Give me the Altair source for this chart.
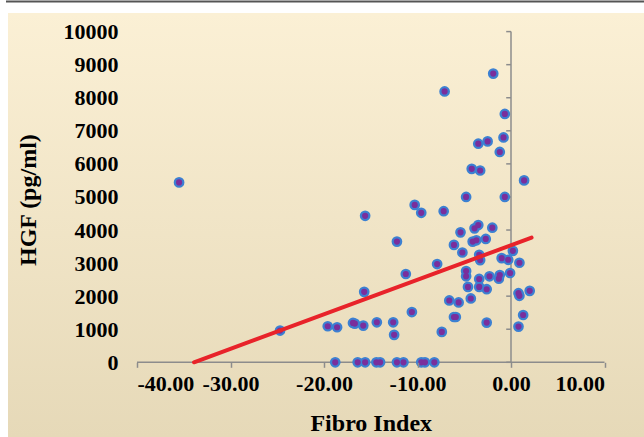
import altair as alt
import pandas as pd

# Fibro index vs HGF concentration, one entry per subject
fibro_index = [
    -35.5, -24.7, -19.6, -18.6, -18.8, -16.9, -16.7, -16.4, -15.8, -15.7,
    -15.6, -15.6, -14.35, -14.4, -14.0, -12.6, -12.5, -12.2, -12.2, -11.5,
    -11.25, -10.6, -10.3, -9.6, -9.6, -9.2, -8.2, -7.9, -7.4, -7.2,
    -7.1, -6.6, -6.1, -6.1, -5.9, -5.6, -5.4, -5.2, -4.8, -4.8,
    -4.8, -4.6, -4.3, -4.2, -4.1, -3.9, -3.7, -3.5, -3.5, -3.4,
    -3.3, -3.4, -3.4, -3.3, -2.7, -2.6, -2.6, -2.5, -2.3, -2.0,
    -1.9, -1.3, -1.2, -1.2, -1.0, -0.8, -0.66, -0.66, -0.3, -0.1,
    0.2, 0.8, 0.8, 0.9, 0.9, 1.3, 1.4, 2.0,
]
hgf_pg_ml = [
    5440, 960, 1090, 1060, 0, 1190, 1170, 0, 1110, 2130,
    4430, 0, 1210, 0, 0, 1210, 830, 3650, 0, 0,
    2670, 1520, 4760, 4520, 0, 0, 0, 2970, 920, 4570,
    8190, 1870, 3550, 1370, 1370, 1810, 3930, 3320, 5000, 2760,
    2600, 2280, 1930, 5850, 3650, 4050, 3690, 4150, 6610, 3250,
    3090, 2520, 2280, 5800, 3730, 2210, 1200, 6680, 2600, 4070,
    8730, 2530, 2640, 6360, 3150, 6800, 7510, 5000, 3100, 2700,
    3370, 1080, 2090, 2010, 3010, 1430, 5500, 2160,
]

# Linear trend line end points
trend_x = [-33.9, 2.2]
trend_y = [0, 3770]

x_ticks = [-40, -30, -20, -10, 0, 10]
y_ticks = [0, 1000, 2000, 3000, 4000, 5000, 6000, 7000, 8000, 9000, 10000]

pts = pd.DataFrame({"fibro": fibro_index, "hgf": hgf_pg_ml})
trend = pd.DataFrame({"fibro": trend_x, "hgf": trend_y})
ticks_df = pd.DataFrame({"fibro": [0] * len(y_ticks), "hgf": y_ticks})
one = pd.DataFrame({"k": [0]})

W, H = 467.5, 330.7
LEFT, TOP = 137, 31.6
FONT = "Liberation Serif"
AXIS_GREY = "#8c8c8c"

xs = alt.Scale(domain=[-40, 10], nice=False, zero=False)
ys = alt.Scale(domain=[0, 10000], nice=False)

x_axis = alt.Axis(
    values=x_ticks,
    labelExpr="(datum.value < 0 ? '-' : '') + format(abs(datum.value), '.2f')",
    title="Fibro Index", domain=False, grid=False,
    ticks=True, tickColor=AXIS_GREY, tickSize=5, tickWidth=1.5,
    labelFont=FONT, labelFontSize=22, labelFontWeight="bold", labelColor="black",
    labelPadding=6,
    titleFont=FONT, titleFontSize=24, titleFontWeight="bold", titleColor="black",
    titleBaseline="middle", titleY=61, zindex=1,
)
y_axis = alt.Axis(
    values=y_ticks, format="d", title="HGF (pg/ml)", domain=False, grid=False,
    ticks=False, labelPadding=19,
    labelFont=FONT, labelFontSize=22, labelFontWeight="bold", labelColor="black",
    titleFont=FONT, titleFontSize=24, titleFontWeight="bold", titleColor="black",
    titleAngle=-90, titleBaseline="middle", titleAlign="center",
    titleX=28 - LEFT, titleY=168, zindex=1,
)


def X(field):
    return alt.X(field, type="quantitative", scale=xs, axis=x_axis)


def Y(field):
    return alt.Y(field, type="quantitative", scale=ys, axis=y_axis)


# page background with a soft vertical gradient
bg = alt.Chart(one).mark_rect(
    color=alt.LinearGradient(
        gradient="linear",
        stops=[alt.GradientStop(color="#FBF0D5", offset=0),
               alt.GradientStop(color="#E6D9B8", offset=1)],
        x1=0, x2=0, y1=0, y2=1,
    )
).encode(
    x=alt.value(8 - LEFT), x2=alt.value(644 - LEFT),
    y=alt.value(13 - TOP), y2=alt.value(437 - TOP),
)

top_rule = alt.Chart(one).mark_rule(color="#555555", strokeWidth=2).encode(
    x=alt.value(6 - LEFT), x2=alt.value(644 - LEFT), y=alt.value(1.5 - TOP)
)

# x axis line along HGF = 0 and y axis line along Fibro Index = 0
x_line = alt.Chart(pd.DataFrame({"fibro": [-40], "fibro2": [10], "hgf": [0]})).mark_rule(
    color=AXIS_GREY, strokeWidth=1.5
).encode(x=X("fibro"), x2="fibro2:Q", y=Y("hgf"))
y_line = alt.Chart(pd.DataFrame({"fibro": [0], "hgf": [0], "hgf2": [10000]})).mark_rule(
    color=AXIS_GREY, strokeWidth=1.5
).encode(x=X("fibro"), y=Y("hgf"), y2="hgf2:Q")

# small tick marks pointing left from the y axis line
y_tick_marks = alt.Chart(ticks_df).mark_rule(color=AXIS_GREY, strokeWidth=1.5).encode(
    x=X("fibro"), x2=alt.value(511.2 - LEFT - 5), y=Y("hgf")
)

outer = alt.Chart(pts).mark_circle(size=115, color="#3C80D2", opacity=1).encode(
    x=X("fibro"), y=Y("hgf")
)
inner = alt.Chart(pts).mark_circle(size=38, color="#7A2E9C", opacity=1).encode(
    x=X("fibro"), y=Y("hgf")
)
line = alt.Chart(trend).mark_line(color="#E8232A", strokeWidth=4, strokeCap="round").encode(
    x=X("fibro"), y=Y("hgf")
)

chart = alt.layer(bg, top_rule, x_line, y_line, y_tick_marks, outer, inner, line).properties(
    width=W, height=H,
    padding={"left": LEFT, "top": TOP, "right": 644 - LEFT - W, "bottom": 437 - TOP - H},
    autosize=alt.AutoSizeParams(type="none"),
    background="white",
).configure_view(strokeWidth=0)

chart.save("out.html", embed_options={"renderer": "svg", "actions": False})
